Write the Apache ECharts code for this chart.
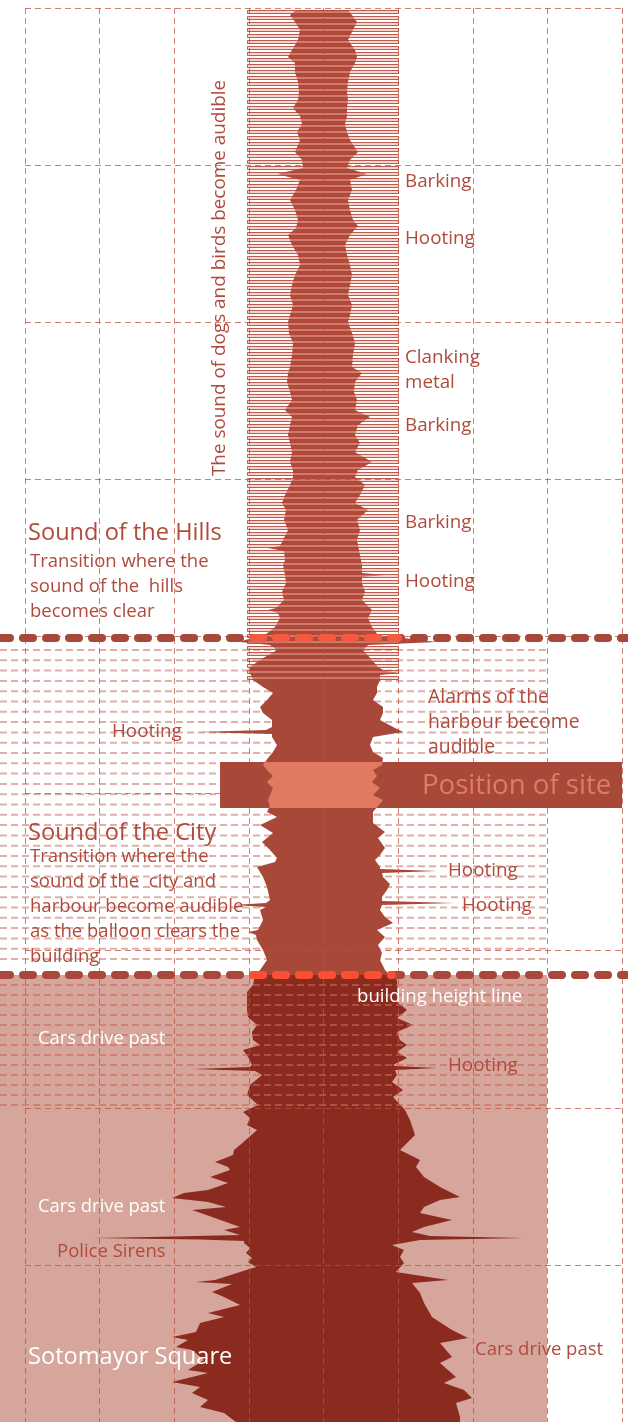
<!DOCTYPE html>
<html>
<head>
<meta charset="utf-8">
<script src="https://cdn.jsdelivr.net/npm/echarts@6/dist/echarts.min.js"></script>
<style>
  html, body { margin: 0; padding: 0; background: #fff; }
  #main { width: 628px; height: 1422px; }
</style>
</head>
<body>
<div id="main"></div>
<script>
// sound waveform, edges: [height, x]
const leftEdge = [
  [10,296],[15,290],[22,295],[30,300],[40,298],[50,292],[57,288],[63,295],[72,295],[82,298],
  [92,299],[100,298],[108,293],[116,300],[124,302],[132,297],[140,300],[152,295],[160,302],[168,303],
  [174,277],[180,300],[190,296],[200,290],[210,295],[220,298],[228,296],[235,288],[245,292],[255,298],
  [265,300],[275,295],[285,292],[295,290],[305,293],[315,290],[322,288],[333,289],[343,293],[355,292],
  [367,290],[373,288],[382,287],[392,290],[400,292],[410,285],[417,292],[425,290],[435,288],[443,290],
  [452,292],[462,290],[470,293],[477,293],[485,290],[495,285],[503,282],[510,286],[520,284],[530,288],
  [540,283],[546,280],[548,268],[551,284],[560,285],[565,283],[575,285],[583,286],[592,282],[600,284],
  [608,276],[610,268],[613,278],[618,280],[627,275],[635,265],[640,245],[642,240],[645,270],
  [650,277],[660,260],[667,250],[673,250],[680,253],[687,263],[693,273],[700,267],[707,260],[713,263],
  [720,272],[727,272],[730,266],[732,197],[734,272],[737,272],[745,277],[752,273],[758,268],[765,263],
  [770,267],[776,273],[782,267],[788,273],[795,270],[800,268],[806,270],[812,267],[817,277],[825,260],
  [833,273],[842,262],[850,270],[858,277],[862,275],[867,257],[877,263],[887,267],[900,270],[903,266],
  [905,233],[907,266],[910,260],[920,263],[930,258],[932,248],[935,256],[940,257],[950,263],[960,267],
  [970,260],[975,255],
  [985,253],[992,247],[1000,247],[1010,247],[1017,248],[1025,257],[1032,252],[1040,253],[1045,260],[1050,243],
  [1057,248],[1065,252],[1067,250],[1069,193],[1071,255],[1075,262],[1085,250],[1095,247],[1105,258],[1112,243],
  [1118,250],[1125,247],[1130,257],[1138,248],[1145,240],[1150,234],[1155,233],[1162,215],[1167,228],[1170,230],
  [1177,210],[1183,228],[1190,208],[1193,184],[1198,172],[1202,208],[1207,226],[1210,192],[1217,212],[1227,240],
  [1230,224],[1235,240],[1237,150],[1238,92],[1239.5,200],[1241,244],[1243,244],[1248,250],[1253,246],[1258,252],
  [1262,248],[1267,256],[1272,240],[1280,215],[1282,196],[1284,232],[1292,212],[1297,224],[1305,240],[1313,208],
  [1317,224],[1323,200],[1332,196],[1337,172],[1340,188],[1347,176],[1350,192],[1360,204],[1370,188],[1373,208],
  [1382,172],[1387,200],[1393,192],[1400,208],[1407,200],[1413,224],[1422,236]
];
const rightEdge = [
  [10,348],[15,352],[22,357],[30,353],[40,348],[50,355],[57,357],[63,355],[72,350],[82,348],
  [92,347],[100,348],[108,347],[116,347],[124,345],[132,347],[140,350],[152,358],[160,350],[168,347],
  [174,367],[180,350],[190,352],[200,348],[210,350],[220,353],[226,358],[235,350],[245,345],[255,347],
  [265,350],[275,352],[285,350],[295,348],[305,352],[315,350],[322,348],[333,352],[343,355],[355,353],
  [367,352],[373,362],[382,355],[392,354],[400,357],[410,355],[417,370],[425,358],[435,355],[443,360],
  [452,355],[462,372],[470,358],[477,355],[485,365],[495,360],[503,355],[510,368],[520,357],[530,360],
  [540,357],[555,360],[565,362],[573,362],[575,385],[577,362],[583,362],[592,365],[600,362],[610,372],
  [618,368],[627,372],[635,378],[640,420],[642,437],[645,368],
  [650,363],[660,372],[667,378],[671,385],[673,400],[675,380],[680,380],[687,377],[693,377],[700,373],
  [707,383],[713,383],[720,380],[727,393],[732,403],[737,373],[745,370],[752,373],[758,383],[765,382],
  [770,373],[776,377],[782,372],[788,380],[795,373],[800,383],[806,378],[812,373],[823,373],[832,385],
  [838,378],[848,385],[855,380],[860,375],[867,380],[869,380],[871,437],[873,382],[877,383],[884,390],
  [890,387],[897,382],[901,382],[903,455],[905,382],[910,380],[917,385],[923,393],[930,377],[937,385],
  [945,378],[953,382],[960,380],[970,385],[975,390],
  [980,397],[993,398],[1002,397],[1010,407],[1018,397],[1025,413],[1032,397],[1040,400],[1045,407],[1052,397],
  [1058,407],[1065,393],[1066,395],[1068,437],[1070,395],[1075,397],[1082,392],[1090,403],[1097,393],[1110,405],
  [1120,410],[1135,415],[1145,405],[1150,400],[1160,420],[1167,416],[1177,424],[1187,440],[1197,460],[1200,440],
  [1207,424],[1213,420],[1220,452],[1227,424],[1232,412],[1236,430],[1238,524],[1240,420],[1245,392],[1250,404],
  [1257,400],[1263,404],[1272,396],[1280,448],[1283,412],[1293,420],[1303,424],[1317,432],[1330,452],[1338,468],
  [1343,440],[1357,452],[1363,440],[1377,456],[1383,444],[1390,464],[1398,472],[1403,456],[1417,460],[1422,460]
];

// section boundaries (heights)
const hillsEnd = 638;        // end of the sound of the hills
const buildingLine = 975;    // building height line
const siteBand = [762, 808]; // position of site

const W = 628, H = 1422;
const RED = '#b04a3c';
const WAVE_TOP = '#b04b3c';
const WAVE_CITY = '#a84839';
const WAVE_LOW = '#8b2b20';
const SALMON = '#e07b62';
const PINK = '#d6a69c';

const chart = echarts.init(document.getElementById('main'));

function stop(y, c) { return { offset: y / H, color: c }; }

const waveFill = {
  type: 'linear', x: 0, y: 0, x2: 0, y2: H, global: true,
  colorStops: [
    stop(0, WAVE_TOP), stop(hillsEnd + 3, WAVE_TOP),
    stop(hillsEnd + 3, WAVE_CITY), stop(buildingLine, WAVE_CITY),
    stop(buildingLine, WAVE_LOW), stop(H, WAVE_LOW)
  ]
};
const bandFill = {
  type: 'linear', x: 0, y: 0, x2: 0, y2: H, global: true,
  colorStops: [
    stop(0, 'rgba(0,0,0,0)'), stop(siteBand[0], 'rgba(0,0,0,0)'),
    stop(siteBand[0], SALMON), stop(siteBand[1], SALMON),
    stop(siteBand[1], 'rgba(0,0,0,0)'), stop(H, 'rgba(0,0,0,0)')
  ]
};

function wavePoints(api) {
  const pts = [];
  rightEdge.forEach(p => pts.push(api.coord([p[1], p[0]])));
  for (let i = leftEdge.length - 1; i >= 0; i--) pts.push(api.coord([leftEdge[i][1], leftEdge[i][0]]));
  return pts;
}

function hLines(api, x0, x1, y0, y1, step, style) {
  const children = [];
  for (let y = y0; y <= y1; y += step) {
    const a = api.coord([x0, y]), b = api.coord([x1, y]);
    children.push({ type: 'line', shape: { x1: a[0], y1: a[1], x2: b[0], y2: b[1] }, style: style });
  }
  return { type: 'group', children: children };
}

function rectOf(api, x0, y0, x1, y1, style) {
  const a = api.coord([x0, y0]), b = api.coord([x1, y1]);
  return { type: 'rect', shape: { x: a[0], y: a[1], width: b[0] - a[0], height: b[1] - a[1] }, style: style };
}

function deco(name, z, render) {
  return {
    name: name, type: 'custom', coordinateSystem: 'cartesian2d',
    xAxisIndex: 0, yAxisIndex: 0, z: z, silent: true, clip: false,
    data: [[0, 0]], renderItem: function (params, api) { return render(api); }
  };
}

function thickLine(api, y, x0, x1, color) {
  const a = api.coord([x0, y]), b = api.coord([x1, y]);
  return {
    type: 'line', shape: { x1: a[0], y1: a[1], x2: b[0], y2: b[1] },
    style: { stroke: color, lineWidth: 8, lineCap: 'round', lineDash: [10, 13], lineDashOffset: a[0] }
  };
}

function label(text, x, y, size, color, extra) {
  return Object.assign({
    type: 'text', x: x, y: y, z: 100, silent: true,
    style: {
      text: text, fill: color, font: size + 'px "Open Sans"',
      textAlign: 'left', textVerticalAlign: 'middle', align: 'left', verticalAlign: 'middle'
    }
  }, extra || {});
}

const gridLine = { color: 'rgba(190,78,62,0.72)', width: 1, type: [6, 4] };
const S = 18.8, T = 23.6;

chart.setOption({
  animation: false,
  backgroundColor: '#ffffff',
  grid: [
    { left: 0, right: 0, top: 0, bottom: 0 },
    { left: 25, right: 6, top: 8, bottom: -3.5 }
  ],
  xAxis: [
    { type: 'value', min: 0, max: W, show: false },
    { type: 'value', gridIndex: 1, min: 0, max: 597, interval: 74.625, z: 5,
      axisLine: { show: false }, axisTick: { show: false }, axisLabel: { show: false },
      splitLine: { show: true, lineStyle: gridLine } }
  ],
  yAxis: [
    { type: 'value', min: 0, max: H, inverse: true, show: false },
    { type: 'value', gridIndex: 1, min: 0, max: 1417.5, interval: 157.5, inverse: true, z: 5,
      axisLine: { show: false }, axisTick: { show: false }, axisLabel: { show: false },
      splitLine: { show: true, lineStyle: gridLine } }
  ],
  series: [
    deco('cityStripes', 1, api => hLines(api, 0, 547, hillsEnd + 12, buildingLine - 6, 10.3,
      { stroke: 'rgba(214,150,140,0.75)', lineWidth: 2, lineDash: [7, 4] })),
    deco('lowFill', 1, api => rectOf(api, 0, buildingLine, 547, H, { fill: PINK })),
    deco('wave', 3, api => ({ type: 'polygon', shape: { points: wavePoints(api) }, style: { fill: waveFill } })),
    deco('hillStripes', 4, api => {
      const children = [];
      for (let y = 10; y <= 680; y += 6) {
        children.push(rectOf(api, 247.5, y + 0.5, 398.5, y + 3.5,
          { fill: 'rgba(238,172,160,0.5)', stroke: 'rgba(176,66,50,0.85)', lineWidth: 1 }));
      }
      return { type: 'group', children: children };
    }),
    deco('lowStripes', 4, api => hLines(api, 0, 547, buildingLine + 10, 1105, 10,
      { stroke: 'rgba(200,105,90,0.6)', lineWidth: 2, lineDash: [7, 4] })),
    deco('siteBand', 6, api => rectOf(api, 220, siteBand[0], 622, siteBand[1], { fill: WAVE_CITY })),
    deco('waveSite', 7, api => ({ type: 'polygon', shape: { points: wavePoints(api) }, style: { fill: bandFill } })),
    deco('sectionLines', 8, api => ({
      type: 'group',
      children: [
        thickLine(api, hillsEnd, 0, W, '#a8483a'),
        thickLine(api, hillsEnd, 247, 398, '#f55a40'),
        thickLine(api, buildingLine, 0, W, '#a8483a'),
        thickLine(api, buildingLine, 247, 392, '#fa4f34')
      ]
    }))
  ],
  graphic: [
    label('The sound of dogs and birds become audible', 220, 278, 18.9, RED,
      { rotation: Math.PI / 2, style: { text: 'The sound of dogs and birds become audible', fill: RED,
        font: '18.9px "Open Sans"', textAlign: 'center', textVerticalAlign: 'middle', align: 'center', verticalAlign: 'middle' } }),
    label('Barking', 405, 182, S, RED),
    label('Hooting', 405, 239, S, RED),
    label('Clanking', 405, 358, S, RED),
    label('metal', 405, 383, S, RED),
    label('Barking', 405, 426, S, RED),
    label('Barking', 405, 523, S, RED),
    label('Hooting', 405, 582, S, RED),
    label('Sound of the Hills', 28, 533, T, RED),
    label('Transition where the', 30, 562, 18.5, RED),
    label('sound of the  hills', 30, 587, 18.5, RED),
    label('becomes clear', 30, 612, 18.5, RED),
    label('Hooting', 112, 732, S, RED),
    label('Alarms of the', 428, 697, 19.4, RED),
    label('harbour become', 428, 722, 19.4, RED),
    label('audible', 428, 747, 19.4, RED),
    label('Position of site', 422, 786, 27.6, SALMON),
    label('Sound of the City', 28, 833, T, RED),
    label('Transition where the', 30, 857, 18.5, RED),
    label('sound of the  city and', 30, 882, 18.5, RED),
    label('harbour become audible', 30, 907, 18.5, RED),
    label('as the balloon clears the', 30, 932, 18.5, RED),
    label('building', 30, 957, 18.5, RED),
    label('Hooting', 448, 871, S, RED),
    label('Hooting', 462, 906, S, RED),
    label('building height line', 357, 997, 18.6, '#ffffff'),
    label('Cars drive past', 38, 1039, 18.4, '#ffffff'),
    label('Hooting', 448, 1066, S, RED),
    label('Cars drive past', 38, 1207, 18.4, '#ffffff'),
    label('Police Sirens', 57, 1252, 18.5, RED),
    label('Sotomayor Square', 28, 1357, 23.6, '#ffffff'),
    label('Cars drive past', 475, 1350, 18.5, RED)
  ]
});
</script>
</body>
</html>
